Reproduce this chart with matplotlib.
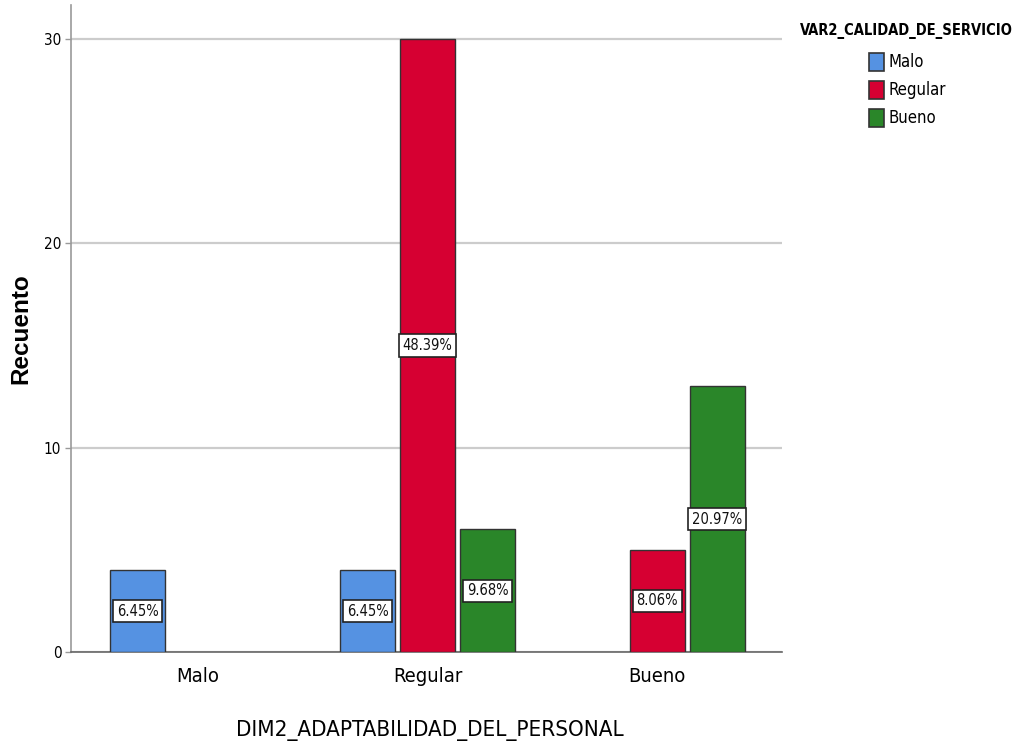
import matplotlib
matplotlib.use("Agg")
import matplotlib.pyplot as plt
from matplotlib.patches import Rectangle
import numpy as np

categories = ["Malo", "Regular", "Bueno"]
series_names = ["Malo", "Regular", "Bueno"]
# counts per x category for each series (None = no bar)
malo_vals = [4, 4, None]
regular_vals = [None, 30, 5]
bueno_vals = [None, 6, 13]
malo_pct = ["6.45%", "6.45%", None]
regular_pct = [None, "48.39%", "8.06%"]
bueno_pct = [None, "9.68%", "20.97%"]
yticks = [0, 10, 20, 30]
colors = ["#5592E2", "#D60032", "#2A8629"]

plt.rcParams['font.family'] = ["DejaVu Sans"]
plt.rcParams['font.stretch'] = "condensed"

fig = plt.figure(figsize=(10.19, 7.42), dpi=100)
W, H = 1019, 742
ax = fig.add_axes([71 / W, 1 - 652 / H, (782 - 71) / W, (652 - 5) / H])

x = np.arange(len(categories))
width = 0.24
offsets = [-0.261, 0.0, 0.261]
all_vals = [malo_vals, regular_vals, bueno_vals]
all_pct = [malo_pct, regular_pct, bueno_pct]

for s, (vals, pcts) in enumerate(zip(all_vals, all_pct)):
    for i, (v, p) in enumerate(zip(vals, pcts)):
        if v is None:
            continue
        xpos = x[i] + offsets[s]
        ax.bar(xpos, v, width=width, color=colors[s], edgecolor="#333333",
               linewidth=1.0, zorder=3)
        ax.text(xpos, v / 2, p, ha="center", va="center", fontsize=10.5,
                color="#111111", zorder=4, fontstretch="condensed",
                bbox=dict(boxstyle="square,pad=0.25", facecolor="white",
                          edgecolor="#222222", linewidth=1.2))

ax.set_xlim(-0.552, 2.543)
ax.set_ylim(0, 31.66)
ax.set_yticks(yticks)
ax.set_yticklabels([str(t) for t in yticks], fontsize=11, fontstretch="condensed")
ax.set_xticks(x)
ax.set_xticklabels(categories, fontsize=14.5, fontstretch="condensed")
ax.tick_params(axis="x", length=0, pad=11)
ax.tick_params(axis="y", length=4, width=1, color="#999999", pad=3)
ax.yaxis.grid(True, color="#cccccc", linewidth=1.6, zorder=0)
ax.set_axisbelow(True)
for sp in ["top", "right"]:
    ax.spines[sp].set_visible(False)
ax.spines["left"].set_color("#999999")
ax.spines["bottom"].set_color("#666666")
ax.spines["left"].set_linewidth(1.2)
ax.spines["bottom"].set_linewidth(1.2)

ylab = ax.set_ylabel("Recuento", fontsize=17.5, fontweight="bold",
                     fontstretch="normal")
ylab.set_family(["Liberation Sans", "DejaVu Sans"])
ax.yaxis.set_label_coords((32 - 71) / 711, 0.5)
ax.set_xlabel("DIM2_ADAPTABILIDAD_DEL_PERSONAL", fontsize=16, fontstretch="condensed")
ax.xaxis.set_label_coords((430 - 71) / 711, (652 - 720) / 647)

# legend drawn in figure pixel coordinates
fig.text(906 / W, 1 - 31 / H, "VAR2_CALIDAD_DE_SERVICIO", ha="center", va="center",
         fontsize=10.5, fontweight="bold", fontstretch="condensed")
row_y = [62, 90, 118]
for c, n, yy in zip(colors, series_names, row_y):
    fig.patches.append(Rectangle(((869) / W, 1 - (yy + 9) / H), 15 / W, 18 / H,
                                 transform=fig.transFigure, facecolor=c,
                                 edgecolor="#333333", linewidth=1.2))
    fig.text(888 / W, 1 - yy / H, n, ha="left", va="center", fontsize=12,
             fontstretch="condensed")

fig.savefig("out.png", dpi=100)
